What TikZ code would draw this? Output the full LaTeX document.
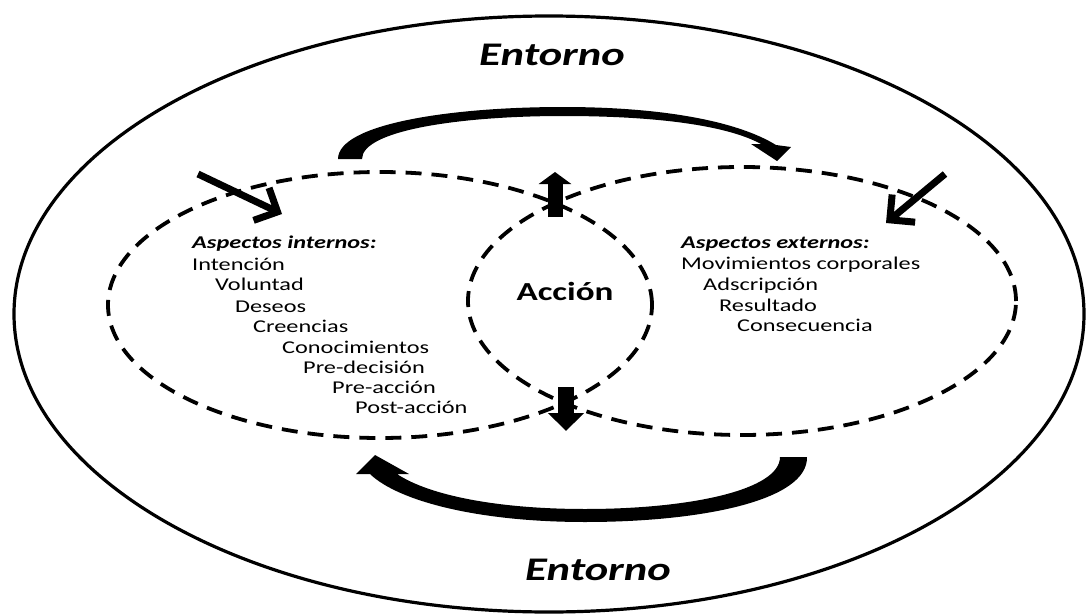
\documentclass[tikz,border=0pt]{standalone}
\usepackage{fontspec}
\setmainfont[FakeStretch=1.35]{Carlito}
\usetikzlibrary{arrows.meta}

\begin{document}
\begin{tikzpicture}[x=1pt, y=-1pt,
    ring/.style={line width=3.2pt},
    dashring/.style={line width=3.8pt, dash pattern=on 16pt off 10pt},
    item/.style={anchor=base west, inner sep=0pt, font=\fontsize{18}{20}\selectfont},
    head/.style={anchor=base west, inner sep=0pt, font=\fontsize{18}{20}\selectfont\bfseries\itshape},
    title/.style={anchor=base, inner sep=0pt, font=\fontsize{33}{36}\selectfont\bfseries\itshape},
    barb/.style={line width=7pt, -{Straight Barb[length=18pt, width=36pt]}}]

    \useasboundingbox (0,0) rectangle (1088,616);

    % Rings
    \draw[ring] (549,314) ellipse [x radius=535pt, y radius=298pt];
    \draw[dashring] (380,305) ellipse [x radius=272pt, y radius=133pt];
    \draw[dashring] (742,301) ellipse [x radius=274pt, y radius=134pt];

    % Titles
    \node[title] (top) at (552,65) {Entorno};
    \node[title] (bottom) at (598,580) {Entorno};
    \node[anchor=base, inner sep=0pt, font=\fontsize{26}{28}\selectfont\bfseries] (accion) at (565,300) {Acción};

    % Internal aspects
    \node[head] (int) at (192,248) {Aspectos internos:};
    \node[item] (i1) at (192,270) {Intención};
    \node[item] (i2) at (215,290) {Voluntad};
    \node[item] (i3) at (235,312) {Deseos};
    \node[item] (i4) at (253,332) {Creencias};
    \node[item] (i5) at (282,353) {Conocimientos};
    \node[item] (i6) at (303,373) {Pre-decisión};
    \node[item] (i7) at (332,393) {Pre-acción};
    \node[item] (i8) at (355,413) {Post-acción};

    % External aspects
    \node[head] (ext) at (681,248) {Aspectos externos:};
    \node[item] (e1) at (681,269) {Movimientos corporales};
    \node[item] (e2) at (703,290) {Adscripción};
    \node[item] (e3) at (719,311) {Resultado};
    \node[item] (e4) at (737,331) {Consecuencia};

    % Straight arrows
    \coordinate (inA) at (198,174);
    \coordinate (inB) at (282,214);
    \coordinate (exA) at (945,174);
    \coordinate (exB) at (886,223);
    \draw[barb] (inA) -- (inB);
    \draw[barb] (exA) -- (exB);

    % Up and down arrows
    \coordinate (upA) at (555,217);
    \coordinate (upB) at (555,172);
    \coordinate (dnA) at (566,387);
    \coordinate (dnB) at (566,431);
    \draw[line width=15pt, -{Triangle[length=12pt, width=32pt]}] (upA) -- (upB);
    \draw[line width=16pt, -{Triangle[length=18pt, width=35pt]}] (dnA) -- (dnB);

    % Curved arrows
    \fill (338,159) .. controls (338,124) and (450,107) .. (563,107)
        .. controls (662,107) and (737,121) .. (776,145) -- (791,147) -- (777,161)
        -- (751,144) -- (761,144) .. controls (728,126) and (660,116) .. (563,116)
        .. controls (462,116) and (362,130) .. (362,159) -- cycle;
    \fill (807,457) .. controls (808,501) and (700,522) .. (585,522)
        .. controls (478,522) and (398,501) .. (370,474) -- (356,474) -- (375,455)
        -- (409,474) -- (397,474) .. controls (430,496) and (500,509) .. (585,509)
        .. controls (690,509) and (780,490) .. (780,457) -- cycle;

\end{tikzpicture}
\end{document}
